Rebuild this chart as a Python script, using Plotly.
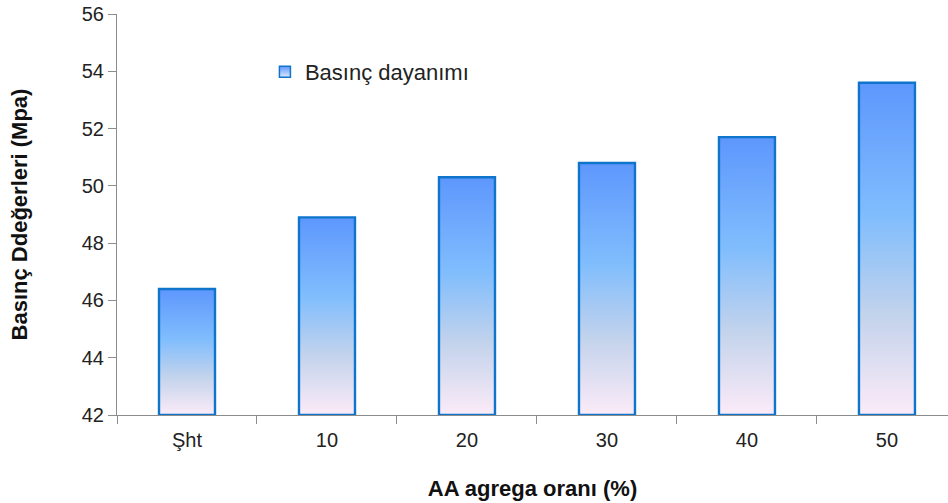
import plotly.graph_objects as go

categories = ["Şht", "10", "20", "30", "40", "50"]
values = [46.4, 48.9, 50.3, 50.8, 51.7, 53.6]
series_name = "Basınç dayanımı"
y_ticks = [42, 44, 46, 48, 50, 52, 54, 56]

base = 42
half_w = 0.2
grad = [[0.0, "#fcebf8"], [0.3, "#c3d3ec"], [0.6, "#80bdfd"], [1.0, "#5e97fd"]]
FONT = "Liberation Sans, Arial, sans-serif"

fig = go.Figure()
for i, (c, v) in enumerate(zip(categories, values)):
    xs = [i - half_w, i + half_w, i + half_w, i - half_w, i - half_w]
    ys = [base, base, v, v, base]
    fig.add_trace(go.Scatter(
        x=xs, y=ys, mode="lines", fill="toself",
        line=dict(color="#0e74cc", width=2.4),
        fillgradient=dict(type="vertical", colorscale=grad, start=base, stop=v),
        name=series_name, legendgroup="s", showlegend=False,
        hoverinfo="skip",
    ))

# legend entry (square swatch)
fig.add_trace(go.Scatter(
    x=[None], y=[None], mode="markers", name=series_name, legendgroup="s",
    marker=dict(symbol="square", size=11, color="#5e97fd",
                gradient=dict(type="vertical", color="#dce8fb"),
                line=dict(color="#0e74cc", width=1.5)),
))

fig.update_layout(
    width=948, height=503,
    margin=dict(l=117, r=0, t=14, b=88),
    paper_bgcolor="white", plot_bgcolor="white",
    font=dict(family=FONT, size=20, color="#222"),
    showlegend=True,
    legend=dict(x=0.178, y=0.908, xanchor="left", yanchor="top",
                bgcolor="rgba(0,0,0,0)", font=dict(size=22, color="#222"),
                itemwidth=30),
    xaxis=dict(
        range=[-0.5, 5.436], tickmode="array", tickvals=list(range(len(categories))),
        ticktext=categories, ticks="", showgrid=False, zeroline=False,
        showline=True, linecolor="#8c8c8c", linewidth=1,
        minor=dict(tickmode="array", tickvals=[k - 0.5 for k in range(len(categories) + 1)],
                   ticks="outside", ticklen=8, tickcolor="#8c8c8c", showgrid=False),
        ticklabelstandoff=7,
        title=dict(text="<b>AA agrega oranı (%)</b>", font=dict(size=22, color="#111"), standoff=30),
        tickfont=dict(size=20),
    ),
    yaxis=dict(
        range=[42, 56], tickmode="array", tickvals=y_ticks,
        ticks="outside", ticklen=8, tickcolor="#8c8c8c",
        showgrid=False, zeroline=False, showline=True, linecolor="#8c8c8c", linewidth=1,
        title=dict(text="<b>Basınç Ddeğerleri (Mpa)</b>", font=dict(size=22, color="#111"), standoff=48),
        tickfont=dict(size=20),
    ),
)

fig.write_html("out.html", config={"displayModeBar": False},
               post_script="document.body.style.margin='0';document.body.style.overflow='hidden';")
